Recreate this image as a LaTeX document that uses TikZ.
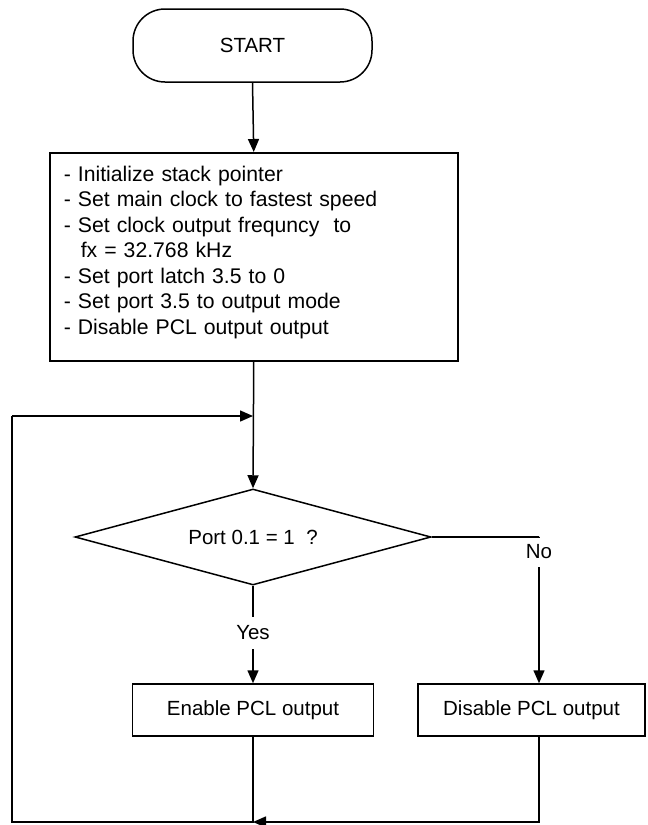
\documentclass[tikz,border=0pt]{standalone}
\usepackage{fontspec}
\setmainfont{Liberation Sans}
\usetikzlibrary{arrows.meta,shapes.geometric}
\begin{document}
\begin{tikzpicture}[x=1pt,y=-1pt,
  every node/.style={font=\fontsize{20.5}{25.5}\selectfont},
  ln/.style={line width=1.5pt},
  arr/.style={line width=1.5pt,-{Triangle[length=13pt,width=11pt]}},
  box/.style={draw,line width=1.5pt,inner sep=0pt},
]
\fill[white] (0,0) rectangle (648,825);
\useasboundingbox (0,0) rectangle (648,825);
\node[box, rounded corners=32pt, minimum width=239pt, minimum height=73pt] (start) at (252.5,45.5) {START};
\node[box, anchor=north west, text width=380pt, inner xsep=14pt, inner ysep=0pt, minimum height=208pt, align=left,
      font=\fontsize{21.2}{25.5}\selectfont] (init) at (49,152)
 {- Initialize stack pointer\\
  - Set main clock to fastest speed\\
  - Set clock output frequncy\ \ to\\
  \hspace*{17pt}fx = 32.768 kHz\\
  - Set port latch 3.5 to 0\\
  - Set port 3.5 to output mode\\
  - Disable PCL output output\rule[-13pt]{0pt}{13pt}};
\node[box, diamond, minimum width=356pt, minimum height=96pt, shape aspect=3.7] (d) at (253,537) {Port 0.1 = 1\ \ ?};
\node[inner sep=0pt, minimum height=32pt] (yes) at (253,633) {Yes};
\node[inner sep=0pt, minimum height=30pt] (no) at (539,552) {No};
\node[box, minimum width=241pt, minimum height=52pt] (en) at (253,710) {Enable PCL output};
\node[box, minimum width=227pt, minimum height=52pt] (dis) at (531.5,710) {Disable PCL output};
\coordinate (j1) at (253,822);
\coordinate (bl) at (12,822);
\coordinate (tl) at (12,416);
\coordinate (j2) at (253,416);
\draw[arr] (start.south) -- (init.north);
\draw[arr] (init.south) -- (d.north);
\draw[ln] (d.south) -- (yes.north);
\draw[arr] (yes.south) -- (en.north);
\draw[ln] (d.east) -| (no.north);
\draw[arr] (no.south) -- (no.south |- dis.north);
\draw[ln] (en.south) -- (j1) -- (bl) -- (tl);
\draw[arr] (tl) -- (j2);
\draw[arr] (no.south |- dis.south) -- (no.south |- j1) -- (j1);
\end{tikzpicture}
\end{document}
